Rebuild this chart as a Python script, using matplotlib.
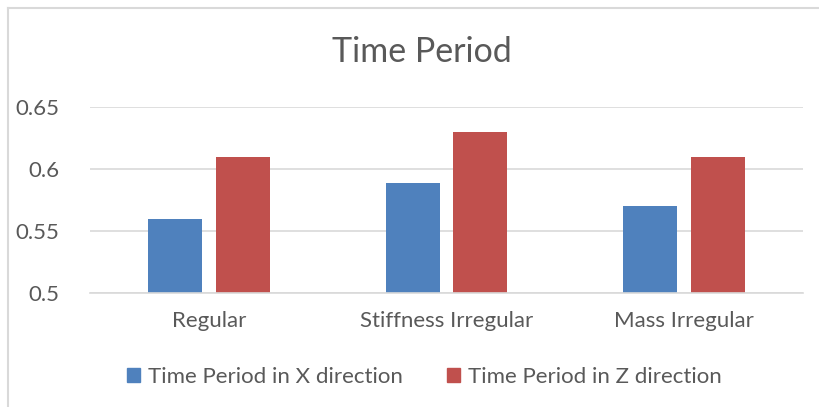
import matplotlib.pyplot as plt
import numpy as np
from matplotlib.patches import Patch

categories = ["Regular", "Stiffness Irregular", "Mass Irregular"]
x_period = [0.56, 0.589, 0.57]
z_period = [0.61, 0.63, 0.61]
series_names = ["Time Period in X direction", "Time Period in Z direction"]
yticks = [0.5, 0.55, 0.6, 0.65]
ytick_labels = ["0.5", "0.55", "0.6", "0.65"]

blue = "#4F81BD"
red = "#C0504D"
text_c = "#595959"
grid_c = "#D9D9D9"

plt.rcParams['font.family'] = ['Lato', 'DejaVu Sans']

fig = plt.figure(figsize=(8.19, 4.07), dpi=100)
ax = fig.add_axes([0.110, 0.280, 0.870, 0.457])

# outer chart border (top and left visible)
fig.add_artist(plt.Line2D([8/819, 1.0], [1 - 8/407, 1 - 8/407], color=grid_c, lw=1.5))
fig.add_artist(plt.Line2D([8/819, 8/819], [0, 1 - 8/407], color=grid_c, lw=1.5))

pos = np.arange(len(categories))
w = 0.227
ax.bar(pos - 0.142, x_period, w, color=blue, zorder=3)
ax.bar(pos + 0.142, z_period, w, color=red, zorder=3)

ax.set_xlim(-0.5, 2.5)
ax.set_ylim(0.5, 0.65)
ax.set_yticks(yticks)
ax.set_yticklabels(ytick_labels)
ax.set_xticks(pos)
ax.set_xticklabels(categories)
ax.tick_params(axis='both', length=0, colors=text_c, labelsize=16)
ax.tick_params(axis='x', pad=13)
ax.tick_params(axis='y', pad=22)
ax.grid(axis='y', color=grid_c, lw=1.2, zorder=0)
for s in ["top", "right", "left"]:
    ax.spines[s].set_visible(False)
ax.spines["bottom"].set_color(grid_c)
ax.spines["bottom"].set_linewidth(1.2)
ax.spines["bottom"].set_zorder(4)

fig.text(0.515, 1 - 52/407, "Time Period", ha='center', va='center', fontsize=24.5,
         color=text_c)

handles = [Patch(color=blue), Patch(color=red)]
fig.legend(handles, series_names, loc='center', bbox_to_anchor=(0.518, 1 - 377/407), ncol=2,
           frameon=False, fontsize=16, labelcolor=text_c, handlelength=0.6, handleheight=0.6,
           handletextpad=0.35, columnspacing=2.0)

fig.savefig("out.png", dpi=100)
